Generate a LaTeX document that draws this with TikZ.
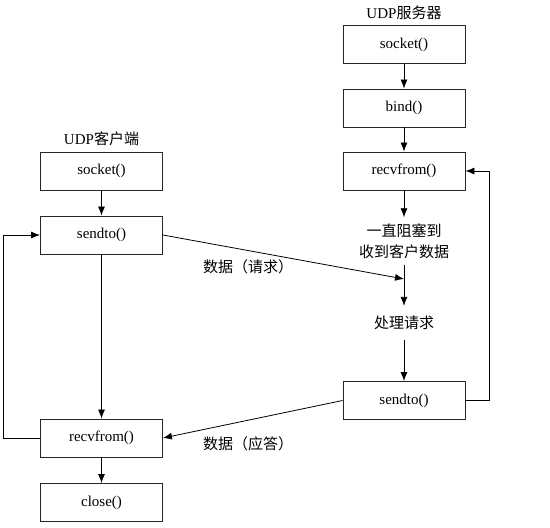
\documentclass[tikz,border=0pt]{standalone}
\usepackage{fontspec}
\setmainfont{Liberation Serif}
\newfontfamily\cjk{Noto Sans CJK SC}
\usetikzlibrary{arrows.meta,positioning}

\tikzset{
  func/.style={draw=black!85, line width=0.9pt, minimum width=122pt, minimum height=38pt, inner sep=0pt},
  note/.style={align=center, inner sep=6pt},
  flow/.style={-{Latex[length=9pt,width=7pt]}, line width=0.8pt},
}

\begin{document}
\begin{tikzpicture}[x=1pt,y=-1pt,font=\fontsize{15}{21}\selectfont]
      \useasboundingbox (0,0) rectangle (550,528);

      % Server side
      \node (stitle) at (404,13) {UDP{\cjk 服务器}};
      \node[func] (ssock) at (404,44.5) {socket()};
      \node[func] (sbind) at (404,108) {bind()};
      \node[func] (srecv) at (404,171) {recvfrom()};
      \node[note] (sblock) at (404,241) {{\cjk 一直阻塞到}\\{\cjk 收到客户数据}};
      \node[note, inner sep=10pt] (sproc) at (404,323) {\cjk 处理请求};
      \node[func] (ssend) at (404,400.5) {sendto()};
      \coordinate (sreq) at (404,279);

      \draw[flow] (ssock) -- (sbind);
      \draw[flow] (sbind) -- (srecv);
      \draw[flow] (srecv) -- (sblock);
      \draw[flow] (sblock) -- (sproc);
      \draw[flow] (sproc) -- (ssend);
      % Server loop back
      \draw[flow] (ssend.east) -- ++(24,0) |- (srecv.east);

      % Client side
      \node (ctitle) at (101.5,139) {UDP{\cjk 客户端}};
      \node[func] (csock) at (101.5,171) {socket()};
      \node[func] (csend) at (101.5,235) {sendto()};
      \node[func] (crecv) at (101.5,438) {recvfrom()};
      \node[func] (cclose) at (101.5,502.5) {close()};

      \draw[flow] (csock) -- (csend);
      \draw[flow] (csend) -- (crecv);
      \draw[flow] (crecv) -- (cclose);
      % Client loop back
      \draw[flow] (crecv.west) -- ++(-37,0) |- (csend.west);

      % Data between the two
      \draw[flow] (csend.east) -- (sreq);
      \draw[flow] (ssend.west) -- (crecv.east);
      \node (reqlbl) at (248,267) {\cjk 数据（请求）};
      \node (replbl) at (248,444) {\cjk 数据（应答）};
\end{tikzpicture}
\end{document}
